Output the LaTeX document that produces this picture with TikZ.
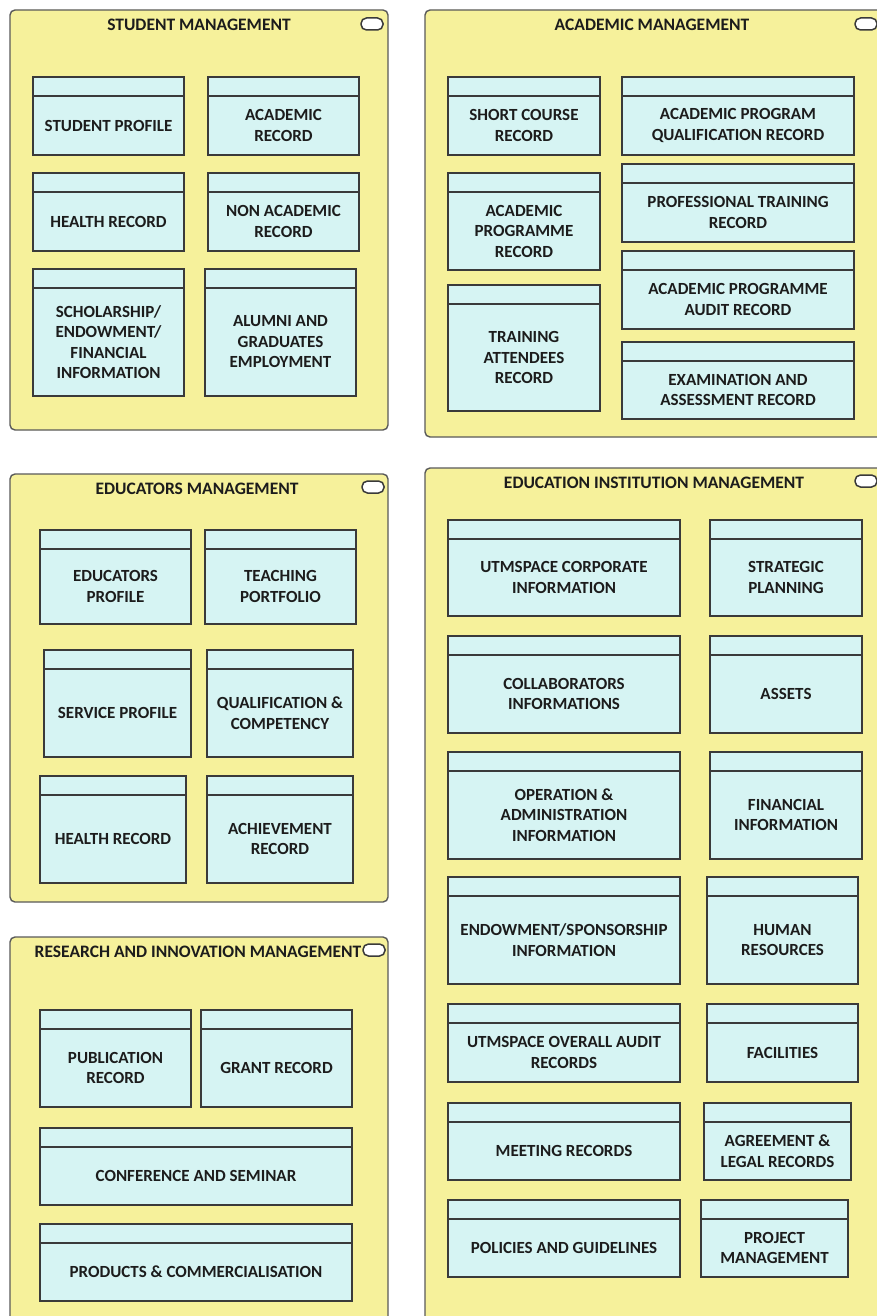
\documentclass[tikz,border=0pt]{standalone}
\usepackage{fontspec}
\setmainfont{Carlito}
\definecolor{panelfill}{HTML}{F6F19B}
\definecolor{paneldraw}{HTML}{5A5A5A}
\definecolor{recfill}{HTML}{D6F4F3}
\definecolor{recdraw}{HTML}{3A3A3A}
\definecolor{inktext}{HTML}{1C1C1C}
\tikzset{
  panelbox/.style={fill=panelfill, draw=paneldraw, line width=1.4pt, rounded corners=5pt},
  paneltitle/.style={font=\bfseries\fontsize{17.5}{20}\selectfont, text=inktext, inner sep=0pt},
  pill/.style={fill=white, draw=recdraw, line width=1.5pt, rounded corners=5.5pt},
  recbox/.style={fill=recfill, draw=recdraw, line width=1.3pt},
  recline/.style={draw=recdraw, line width=1.3pt},
  rectext/.style={font=\bfseries\fontsize{17}{20.5}\selectfont, text=inktext, align=center, inner sep=0pt}
}
% \panelframe{name}{x1}{y1}{x2}{y2}{title}{title x}{title y}{pill centre}
\newcommand\panelframe[9]{%
  \path[panelbox] (#2,#3) rectangle (#4,#5);
  \node[paneltitle] (#1) at (#7,#8) {#6};
  \path[pill] (#9) ++(-11,-6) rectangle ++(22,12);
}
% \record{name}{x1}{y1}{x2}{y2}{text}
\newcommand\record[6]{%
  \path[recbox] (#2,#3) rectangle (#4,#5);
  \draw[recline] (#2,#3+19) -- (#4,#3+19);
  \node[rectext] (#1) at ({(#2+#4)/2},{(#3+19+#5)/2}) {#6};
}
\begin{document}
\begin{tikzpicture}[x=1pt,y=-1pt]
\useasboundingbox (0,0) rectangle (877,1316);
\clip (0,0) rectangle (877,1316);
\fill[white] (0,0) rectangle (877,1316);

% Student management
\panelframe{sm}{10}{10}{388}{430}{STUDENT MANAGEMENT}{199}{25}{372,24}
\record{sp}{33}{77}{184}{155}{STUDENT PROFILE}
\record{ar}{208}{77}{359}{155}{ACADEMIC\\RECORD}
\record{hr}{33}{173}{184}{251}{HEALTH RECORD}
\record{nar}{208}{173}{359}{251}{NON ACADEMIC\\RECORD}
\record{sch}{33}{269}{184}{396}{SCHOLARSHIP/\\ENDOWMENT/\\FINANCIAL\\INFORMATION}
\record{alu}{205}{269}{356}{396}{ALUMNI AND\\GRADUATES\\EMPLOYMENT}

% Academic management
\panelframe{am}{425}{10}{900}{437}{ACADEMIC MANAGEMENT}{652}{25}{866,24}
\record{scr}{448}{77}{600}{155}{SHORT COURSE\\RECORD}
\record{apq}{622}{77}{854}{155}{ACADEMIC PROGRAM\\QUALIFICATION RECORD}
\record{apr}{448}{173}{600}{270}{ACADEMIC\\PROGRAMME\\RECORD}
\record{ptr}{622}{164}{854}{242}{PROFESSIONAL TRAINING\\RECORD}
\record{tar}{448}{285}{600}{411}{TRAINING\\ATTENDEES\\RECORD}
\record{apa}{622}{251}{854}{329}{ACADEMIC PROGRAMME\\AUDIT RECORD}
\record{ear}{622}{342}{854}{419}{EXAMINATION AND\\ASSESSMENT RECORD}

% Educators management
\panelframe{em}{10}{474}{388}{902}{EDUCATORS MANAGEMENT}{197}{489}{373,487}
\record{ep}{40}{530}{191}{624}{EDUCATORS\\PROFILE}
\record{tp}{205}{530}{356}{624}{TEACHING\\PORTFOLIO}
\record{svp}{44}{650}{191}{757}{SERVICE PROFILE}
\record{qc}{207}{650}{353}{757}{QUALIFICATION \&\\COMPETENCY}
\record{ehr}{40}{776}{186}{883}{HEALTH RECORD}
\record{ach}{207}{776}{353}{883}{ACHIEVEMENT\\RECORD}

% Research and innovation management
\panelframe{rm}{10}{937}{388}{1340}{RESEARCH AND INNOVATION MANAGEMENT}{198}{952}{374,950}
\record{pub}{40}{1010}{191}{1107}{PUBLICATION\\RECORD}
\record{gr}{201}{1010}{352}{1107}{GRANT RECORD}
\record{cs}{40}{1128}{352}{1205}{CONFERENCE AND SEMINAR}
\record{pc}{40}{1224}{352}{1301}{PRODUCTS \& COMMERCIALISATION}

% Education institution management
\panelframe{eim}{425}{468}{900}{1340}{EDUCATION INSTITUTION MANAGEMENT}{654}{483}{866,481}
\record{uci}{448}{520}{680}{616}{UTMSPACE CORPORATE\\INFORMATION}
\record{stp}{710}{520}{862}{616}{STRATEGIC\\PLANNING}
\record{col}{448}{636}{680}{733}{COLLABORATORS\\INFORMATIONS}
\record{ast}{710}{636}{862}{733}{ASSETS}
\record{oai}{448}{752}{680}{859}{OPERATION \&\\ADMINISTRATION\\INFORMATION}
\record{fin}{710}{752}{862}{859}{FINANCIAL\\INFORMATION}
\record{esi}{448}{877}{680}{984}{ENDOWMENT/SPONSORSHIP\\INFORMATION}
\record{hum}{707}{877}{858}{984}{HUMAN\\RESOURCES}
\record{oar}{448}{1004}{680}{1082}{UTMSPACE OVERALL AUDIT\\RECORDS}
\record{fac}{707}{1004}{858}{1082}{FACILITIES}
\record{mtr}{448}{1103}{680}{1180}{MEETING RECORDS}
\record{alr}{704}{1103}{851}{1180}{AGREEMENT \&\\LEGAL RECORDS}
\record{pgl}{448}{1200}{680}{1277}{POLICIES AND GUIDELINES}
\record{pjm}{701}{1200}{848}{1277}{PROJECT\\MANAGEMENT}
\end{tikzpicture}
\end{document}
